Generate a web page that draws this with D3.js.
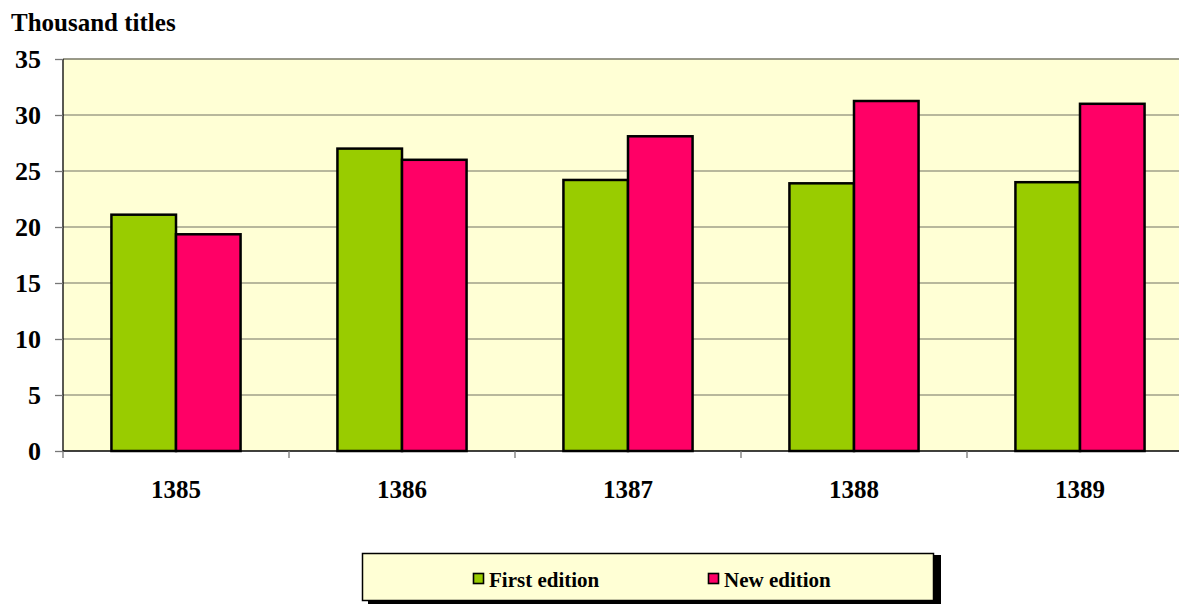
<!DOCTYPE html>
<html><head><meta charset="utf-8">
<script src="https://cdn.jsdelivr.net/npm/d3@7/dist/d3.min.js"></script>
<style>body{margin:0;background:#fff}svg{display:block}</style>
</head><body>
<script>
const categories = ["1385","1386","1387","1388","1389"];
const seriesNames = ["First edition","New edition"];
const firstEdition = [21.1, 27.0, 24.2, 23.9, 24.0];
const newEdition = [19.35, 26.0, 28.1, 31.25, 31.0];
const yTicks = [0,5,10,15,20,25,30,35];
const colors = ["#99CC00","#FF0066"];

(function(){
const W=1179,H=604;
const svg=d3.select("body").append("svg").attr("width",W).attr("height",H);
const font="'Liberation Serif','Times New Roman',serif";
const pL=63, pR=1193, pT=59, pB=451;
const x=d3.scaleBand().domain(categories).range([pL,pR]);
const y=d3.scaleLinear().domain([0,35]).range([pB,pT]);
const inner=d3.scaleBand().domain(seriesNames).range([0,x.bandwidth()]).paddingOuter(0.75).paddingInner(0);

svg.append("rect").attr("x",pL).attr("y",pT).attr("width",pR-pL).attr("height",pB-pT).attr("fill","#FFFFD5");

svg.append("g").selectAll("line").data(yTicks.filter(d=>d>0)).join("line")
 .attr("x1",pL).attr("x2",pR).attr("y1",d=>y(d)).attr("y2",d=>y(d))
 .attr("stroke",d=>d===35?"#777766":"#A0A088").attr("stroke-width",1.5);

const data=categories.map((c,i)=>({c,vals:[firstEdition[i],newEdition[i]]}));
const g=svg.append("g");
data.forEach(d=>{
  d.vals.forEach((v,j)=>{
    g.append("rect").attr("x",x(d.c)+inner(seriesNames[j])).attr("y",y(v))
     .attr("width",inner.bandwidth()).attr("height",y(0)-y(v))
     .attr("fill",colors[j]).attr("stroke","#000").attr("stroke-width",2.5);
  });
});

const yAxis=d3.axisLeft(y).tickValues(yTicks).tickSize(8).tickPadding(14);
const ya=svg.append("g").attr("transform",`translate(${pL},0)`).call(yAxis);
ya.select(".domain").attr("stroke","#000").attr("stroke-width",1.3).attr("d",`M0,${pT}V${pB}`);
ya.selectAll(".tick line").attr("stroke","#777").attr("stroke-width",1.3);
ya.selectAll("text").attr("font-family",font).attr("font-weight","bold").attr("font-size",26).attr("fill","#000").attr("dy","0.34em");

const xAxis=d3.axisBottom(x).tickSize(0).tickPadding(0);
const xa=svg.append("g").attr("transform",`translate(0,${pB})`).call(xAxis);
xa.select(".domain").attr("stroke","#000").attr("stroke-width",1.5).attr("d",`M${pL},0H${pR}`);
xa.selectAll("text").attr("font-family",font).attr("font-weight","bold").attr("font-size",25).attr("fill","#000").attr("y",47).attr("dy",null);
xa.append("g").selectAll("line").data(categories.concat(["end"])).join("line")
 .attr("x1",(d,i)=>pL+i*x.step()).attr("x2",(d,i)=>pL+i*x.step()).attr("y1",0).attr("y2",7)
 .attr("stroke","#777").attr("stroke-width",1.3);

svg.append("text").attr("x",11).attr("y",31).text("Thousand titles")
 .attr("font-family",font).attr("font-weight","bold").attr("font-size",25);

const lg=svg.append("g");
lg.append("rect").attr("x",368).attr("y",555).attr("width",573).attr("height",49).attr("fill","#000");
lg.append("rect").attr("x",362.5).attr("y",553.5).attr("width",571).attr("height",47).attr("fill","#FFFFD5").attr("stroke","#000").attr("stroke-width",1.5);
const lx=[473,708];
seriesNames.forEach((s,i)=>{
  lg.append("rect").attr("x",lx[i]+0.5).attr("y",573.5).attr("width",10).attr("height",10).attr("fill",colors[i]).attr("stroke","#000").attr("stroke-width",1.6);
  lg.append("text").attr("x",lx[i]+16).attr("y",587).text(s).attr("font-family",font).attr("font-weight","bold").attr("font-size",21);
});
})();
</script>
</body></html>
